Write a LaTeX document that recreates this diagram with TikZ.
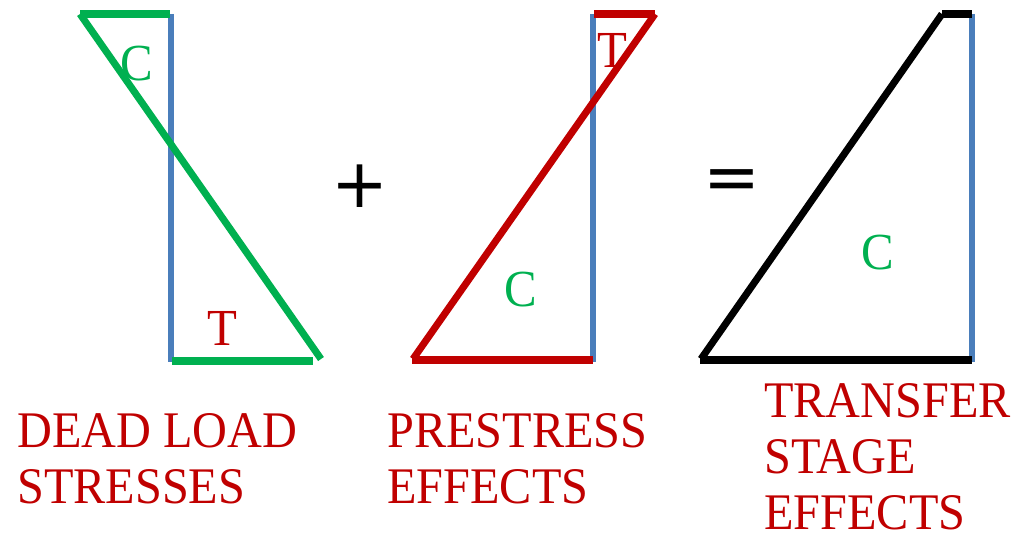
\documentclass[tikz,border=0pt]{standalone}
\usepackage{fontspec}
\setmainfont{Liberation Serif}
\newfontfamily\capfont[FakeStretch=0.94]{Liberation Serif}
\newfontfamily\signfont{DejaVu Sans}
\definecolor{stressgreen}{RGB}{0,176,80}
\definecolor{stressred}{RGB}{192,0,0}
\definecolor{webblue}{RGB}{74,126,187}

\begin{document}
\begin{tikzpicture}[x=0.75pt,y=-0.75pt,line cap=butt,line join=miter,
    web@/.style={line width=5.2pt,webblue},
    diag@/.style={line width=5.3pt},
    tag@/.style={font=\capfont\fontsize{39}{44}\selectfont,inner sep=0pt,anchor=base},
    sign@/.style={font=\signfont\fontsize{51}{60}\selectfont,inner sep=0pt},
    title@/.style={font=\capfont\fontsize{38.5}{44}\selectfont,text=stressred,
      inner sep=0pt,anchor=base west}]
  \useasboundingbox (0,0) rectangle (1021,535);

  % Dead load stresses.
  \draw[web@] (171,14) -- (171,362);
  \draw[diag@,stressgreen] (80,14) -- (170,14);
  \draw[diag@,stressgreen] (172,361) -- (313,361);
  \draw[diag@,stressgreen] (80,14) -- (321,359);
  \node[tag@,text=stressgreen] (c1) at (137,81) {C};
  \node[tag@,text=stressred] (t1) at (222,345) {T};

  \node[sign@] (plus) at (360,186) {+};

  % Prestress effects.
  \draw[web@] (593,14) -- (593,362);
  \draw[diag@,stressred] (594,14) -- (655,14);
  \draw[diag@,stressred] (412,360) -- (593,360);
  \draw[diag@,stressred] (655,14) -- (413,359);
  \node[tag@,text=stressred] (t2) at (612,68) {T};
  \node[tag@,text=stressgreen] (c2) at (521,306) {C};

  \node[sign@] (equals) at (732,185) {=};

  % Transfer stage.
  \draw[web@] (972,14) -- (972,362);
  \draw[diag@,black] (942,14) -- (972,14);
  \draw[diag@,black] (700,360) -- (972,360);
  \draw[diag@,black] (942,14) -- (701,359);
  \node[tag@,text=stressgreen] (c3) at (878,269) {C};

  % Captions.
  \node[title@] (dead) at (17,447) {DEAD LOAD};
  \node[title@] (stresses) at (17,503) {STRESSES};
  \node[title@] (prestress) at (387,447) {PRESTRESS};
  \node[title@] (effects) at (387,503) {EFFECTS};
  \node[title@] (transfer) at (764,417) {TRANSFER};
  \node[title@] (stage) at (764,473) {STAGE};
  \node[title@] (effectsb) at (764,529) {EFFECTS};
\end{tikzpicture}
\end{document}
